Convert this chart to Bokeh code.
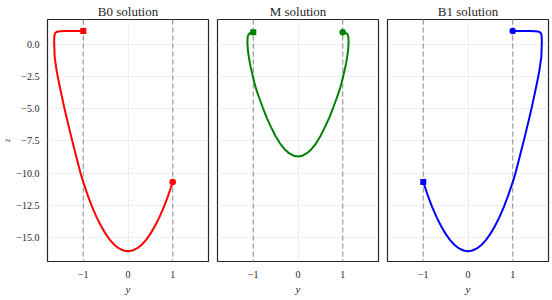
from bokeh.plotting import figure
from bokeh.layouts import row
from bokeh.models import Range1d, FixedTicker, Span
from bokeh.embed import file_html
from bokeh.resources import INLINE

# ---- data ----
titles = ["B0 solution", "M solution", "B1 solution"]
colors = ["#ff0000", "#008000", "#0000ff"]

b0_y = [-1.00, -1.20, -1.40, -1.50, -1.56, -1.60, -1.625, -1.640, -1.648, -1.650, -1.650,
        -1.640, -1.598, -1.572, -1.543, -1.483, -1.420, -1.352, -1.282, -1.247, -1.210,
        -1.136, -1.062, -1.000, -0.90, -0.80, -0.70, -0.60, -0.50, -0.40, -0.30, -0.20,
        -0.10, 0.00, 0.10, 0.20, 0.30, 0.40, 0.50, 0.60, 0.70, 0.80, 0.90, 1.00]
b0_z = [1.00, 1.00, 1.00, 0.99, 0.97, 0.93, 0.86, 0.74, 0.56, 0.30, 0.00,
        -1.00, -2.00, -2.50, -3.00, -4.00, -5.00, -6.00, -7.00, -7.50, -8.00,
        -9.00, -10.00, -10.70, -11.72, -12.63, -13.43, -14.12, -14.71, -15.19, -15.57, -15.84,
        -16.00, -16.05, -16.00, -15.84, -15.57, -15.19, -14.71, -14.12, -13.43, -12.63, -11.72, -10.70]

m_y = [-1.00, -1.05, -1.085, -1.11, -1.125, -1.13, -1.13, -1.12, -1.10, -1.075, -1.045,
       -1.01, -0.975, -0.935, -0.865, -0.79, -0.70, -0.60, -0.50, -0.40, -0.30, -0.20, -0.10,
       0.00, 0.10, 0.20, 0.30, 0.40, 0.50, 0.60, 0.70, 0.79, 0.865, 0.935, 0.975, 1.01,
       1.045, 1.075, 1.10, 1.12, 1.13, 1.13, 1.125, 1.11, 1.085, 1.05, 1.00]
m_z = [0.92, 0.89, 0.82, 0.72, 0.55, 0.30, 0.00, -0.50, -1.00, -1.50, -2.00,
       -2.50, -3.00, -3.50, -4.20, -4.90, -5.70, -6.46, -7.15, -7.71, -8.15, -8.46, -8.65,
       -8.71, -8.65, -8.46, -8.15, -7.71, -7.15, -6.46, -5.70, -4.90, -4.20, -3.50, -3.00, -2.50,
       -2.00, -1.50, -1.00, -0.50, 0.00, 0.30, 0.55, 0.72, 0.82, 0.89, 0.92]

b1_y = [1.00, 1.20, 1.40, 1.50, 1.56, 1.60, 1.625, 1.640, 1.648, 1.650, 1.650,
        1.640, 1.598, 1.572, 1.543, 1.483, 1.420, 1.352, 1.282, 1.247, 1.210,
        1.136, 1.062, 1.000, 0.90, 0.80, 0.70, 0.60, 0.50, 0.40, 0.30, 0.20,
        0.10, 0.00, -0.10, -0.20, -0.30, -0.40, -0.50, -0.60, -0.70, -0.80, -0.90, -1.00]
b1_z = [1.00, 1.00, 1.00, 0.99, 0.97, 0.93, 0.86, 0.74, 0.56, 0.30, 0.00,
        -1.00, -2.00, -2.50, -3.00, -4.00, -5.00, -6.00, -7.00, -7.50, -8.00,
        -9.00, -10.00, -10.70, -11.72, -12.63, -13.43, -14.12, -14.71, -15.19, -15.57, -15.84,
        -16.00, -16.05, -16.00, -15.84, -15.57, -15.19, -14.71, -14.12, -13.43, -12.63, -11.72, -10.70]

x_ticks = [-1, 0, 1]
x_labels = ["\u22121", "0", "1"]
z_ticks = [0.0, -2.5, -5.0, -7.5, -10.0, -12.5, -15.0]
z_labels = ["0.0", "\u22122.5", "\u22125.0", "\u22127.5", "\u221210.0", "\u221212.5", "\u221215.0"]
walls = [-1, 1]

FONT = "Liberation Serif"
TXT = "#262626"

yr = Range1d(-16.85, 1.9)


def panel(i, ys, zs, sq_idx, ci_idx, first):
    p = figure(frame_width=161, frame_height=242, x_range=Range1d(-1.8, 1.8), y_range=yr,
               output_backend="svg", toolbar_location=None, title=titles[i],
               min_border_left=(2 if first else 5), min_border_right=(4 if i < 2 else 2),
               min_border_top=0, min_border_bottom=0)
    p.title.text_font = FONT
    p.title.text_font_size = "13px"
    p.title.text_font_style = "normal"
    p.title.text_color = TXT
    p.title.align = "center"
    p.title.standoff = 2
    p.outline_line_color = TXT
    p.outline_line_width = 1.2
    p.outline_line_alpha = 1.0

    p.xaxis.ticker = FixedTicker(ticks=x_ticks)
    p.xaxis.major_label_overrides = dict(zip(x_ticks, x_labels))
    p.yaxis.ticker = FixedTicker(ticks=z_ticks)
    p.yaxis.major_label_overrides = dict(zip(z_ticks, z_labels))
    for ax in (p.xaxis[0], p.yaxis[0]):
        ax.axis_line_color = None
        ax.major_tick_line_color = None
        ax.minor_tick_line_color = None
        ax.major_label_text_font = FONT
        ax.major_label_text_font_size = "10px"
        ax.major_label_text_color = TXT
        ax.major_label_standoff = 3
        ax.axis_label_text_font = FONT
        ax.axis_label_text_font_style = "italic"
        ax.axis_label_text_color = TXT
        ax.axis_label_standoff = 2
    p.yaxis.major_label_standoff = 2
    p.yaxis.axis_label_standoff = 1
    p.xaxis.axis_label = "y"
    p.xaxis.axis_label_text_font_size = "11px"
    if first:
        p.yaxis.axis_label = "z"
        p.yaxis.axis_label_text_font_size = "8px"
    else:
        p.yaxis.visible = False

    p.grid.grid_line_color = "#d9d9d9"
    p.grid.grid_line_dash = "2 2"
    p.grid.grid_line_width = 0.8

    for w in walls:
        p.add_layout(Span(location=w, dimension="height", line_color="#999999",
                          line_dash="5 3", line_width=1.2, level="underlay"))

    c = colors[i]
    p.line(ys, zs, line_color=c, line_width=2)
    p.scatter([ys[sq_idx]], [zs[sq_idx]], marker="square", size=6,
              fill_color=c, fill_alpha=1.0, line_color=None)
    p.scatter([ys[ci_idx]], [zs[ci_idx]], marker="circle", size=6.5,
              fill_color=c, fill_alpha=1.0, line_color=None)
    return p


p1 = panel(0, b0_y, b0_z, 0, -1, True)
p2 = panel(1, m_y, m_z, 0, -1, False)
p3 = panel(2, b1_y, b1_z, -1, 0, False)

layout = row(p1, p2, p3)
open("out.html", "w").write(file_html(layout, INLINE))
